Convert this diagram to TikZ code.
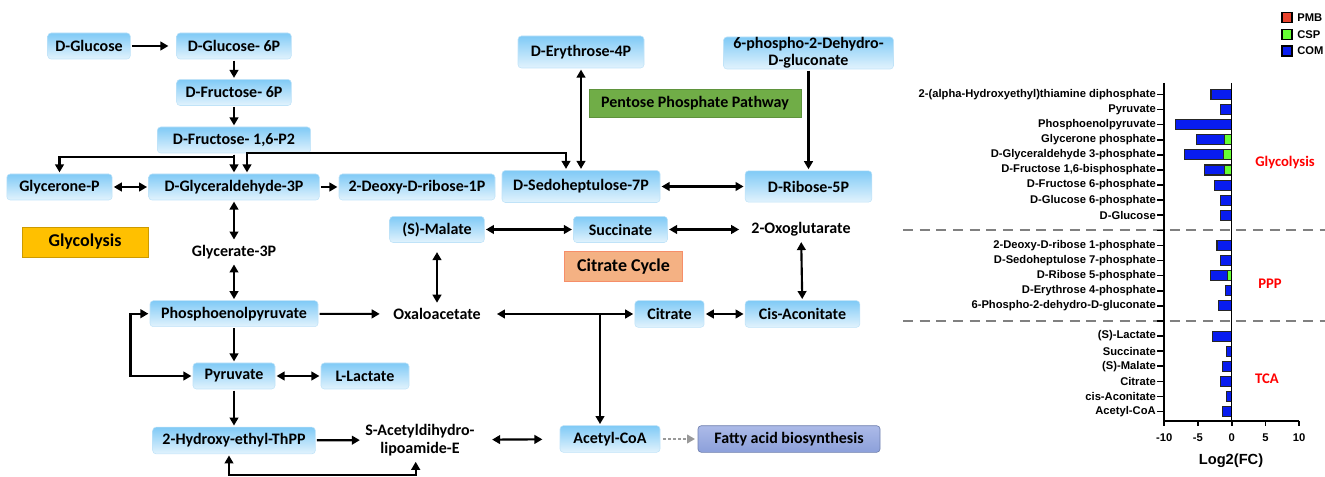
\documentclass[tikz,border=0pt]{standalone}
\usepackage{fontspec}
\setmainfont{Carlito}
\newfontfamily\chartfont{Liberation Sans}
\usetikzlibrary{arrows.meta,calc}

\definecolor{boxtop}{RGB}{128,202,246}
\definecolor{boxbot}{RGB}{226,243,253}
\definecolor{boxline}{RGB}{192,227,248}
\definecolor{pppgreen}{RGB}{112,173,71}
\definecolor{glyorange}{RGB}{255,192,0}
\definecolor{tcasalmon}{RGB}{244,177,131}
\definecolor{fatop}{RGB}{172,186,232}
\definecolor{fabot}{RGB}{140,160,218}
\definecolor{comblue}{RGB}{8,28,240}
\definecolor{cspgreen}{RGB}{102,255,51}
\definecolor{pmbred}{RGB}{232,67,45}

\begin{document}
\begin{tikzpicture}[x=0.75pt,y=-0.75pt,font=\fontsize{12}{13}\selectfont\bfseries]

\tikzset{
  met/.style={rounded corners=2.5pt, top color=boxtop, bottom color=boxbot, draw=boxline, line width=0.4pt,
    inner sep=1pt, minimum height=19.5pt, minimum width=#1},
  txt/.style={inner sep=3pt},
  label box/.style={inner sep=1pt, line width=0.6pt},
  arr/.style={line width=1.6pt, -{Triangle[length=6pt,width=6.5pt]}, shorten >=1pt, shorten <=1pt},
  biarr/.style={arr, {Triangle[length=6pt,width=6.5pt]}-{Triangle[length=6pt,width=6.5pt]}},
  dotarr/.style={line width=1.6pt, black!40, dash pattern=on 2.2pt off 1.6pt, -{Triangle[length=6pt,width=6.5pt]}, shorten >=2pt, shorten <=2pt},
  bar/.style={draw=black!85, line width=0.8pt, fill=comblue},
  lbl/.style={anchor=east, inner sep=0pt},
  sep/.style={black!50, line width=1.5pt, dash pattern=on 7.5pt off 5pt}
}

\useasboundingbox (0,0) rectangle (1325,477);

\node[met=62pt] (Glc) at (89,46) {D-Glucose};
\node[met=86pt] (G6P) at (234,46) {D-Glucose- 6P};
\node[met=86pt] (F6P) at (234,92.5) {D-Fructose- 6P};
\node[met=115pt] (F16P) at (234,140) {D-Fructose- 1,6-P2};
\node[met=79pt] (DHAP) at (59.5,187) {Glycerone-P};
\node[met=128pt] (GAP) at (234,187) {D-Glyceraldehyde-3P};
\node[met=117pt] (Deoxy) at (417,187) {2-Deoxy-D-ribose-1P};
\node[met=118.5pt, minimum height=24pt] (Sedo) at (581,186.5) {D-Sedoheptulose-7P};
\node[met=95pt, minimum height=23.5pt] (R5P) at (808.5,186.5) {D-Ribose-5P};
\node[met=94.5pt, minimum height=24pt] (E4P) at (581,52) {D-Erythrose-4P};
\node[met=127.5pt, minimum height=24pt, inner ysep=0pt, align=center, font=\fontsize{12}{13}\selectfont\bfseries] (PDG) at (808.5,53) {6-phospho-2-Dehydro-\\D-gluconate};
\node[label box, fill=pppgreen, draw=pppgreen!85!black, minimum width=159pt, minimum height=21pt] (PPP) at (695,103) {Pentose Phosphate Pathway};
\node[label box, fill=glyorange, draw=glyorange!80!black, minimum width=94.5pt, minimum height=22.5pt, font=\fontsize{13.5}{15}\selectfont\bfseries] (Gly) at (85,242) {Glycolysis};
\node[txt] (G3P) at (234,252) {Glycerate-3P};
\node[met=71pt] (Mal) at (437,229.5) {(S)-Malate};
\node[met=70.5pt] (Suc) at (620.5,229.5) {Succinate};
\node[txt] (Oxo) at (801,229.5) {2-Oxoglutarate};
\node[label box, fill=tcasalmon, draw=tcasalmon!80!red, minimum width=89pt, minimum height=22.5pt, font=\fontsize{13.5}{15}\selectfont\bfseries] (TCA) at (623.5,266.7) {Citrate Cycle};
\node[met=126pt] (PEP) at (234,313.7) {Phosphoenolpyruvate};
\node[txt] (OAA) at (437,314) {Oxaloacetate};
\node[met=52pt, minimum height=20pt] (Cit) at (669.5,314) {Citrate};
\node[met=86pt, minimum height=20pt] (Cis) at (802.5,314) {Cis-Aconitate};
\node[met=61.5pt] (Pyr) at (234,376) {Pyruvate};
\node[met=66pt] (Lac) at (365,376) {L-Lactate};
\node[met=122pt, minimum height=20pt] (HThPP) at (234,440.5) {2-Hydroxy-ethyl-ThPP};
\node[txt, align=center, font=\fontsize{12}{14}\selectfont\bfseries] (SAc) at (420,440) {S-Acetyldihydro-\\lipoamide-E};
\node[met=75pt, minimum height=20pt] (AcCoA) at (610,439) {Acetyl-CoA};
\node[rounded corners=2.5pt, top color=fatop, bottom color=fabot, draw=fabot!80!black, line width=0.5pt,
  minimum width=136.5pt, minimum height=20pt, inner sep=1pt] (FA) at (789,439) {Fatty acid biosynthesis};
\coordinate (Br) at ($(AcCoA.north)+(-10,0)$);

\draw[arr, shorten >=6pt] (Glc) -- (G6P);
\draw[arr] (G6P) -- (F6P);
\draw[arr] (F6P) -- (F16P);
\draw[arr] (F16P) -- (GAP);
\draw[arr] (F16P.south) -- ++(0,4) -| (DHAP.north);
\draw[biarr] ($(GAP.north)+(13,0)$) -- ++(0,-20.7) -| ($(Sedo.north)+(-15,0)$);
\draw[biarr] (DHAP) -- (GAP);
\draw[arr] (GAP) -- (Deoxy);
\draw[biarr] (E4P) -- (Sedo);
\draw[arr] (PDG) -- (R5P);
\draw[biarr] (Sedo) -- (R5P);
\draw[biarr] (GAP) -- (G3P);
\draw[biarr] (G3P) -- (PEP);
\draw[arr, shorten >=7pt] (PEP) -- (OAA);
\draw[biarr] (PEP.west) -- ++(-19.3,0) |- (Pyr.west);
\draw[arr] (PEP) -- (Pyr);
\draw[biarr] (Pyr) -- (Lac);
\draw[arr] (Pyr) -- (HThPP);
\draw[arr] (HThPP) -- (SAc);
\draw[biarr] ($(HThPP.south)+(-5,0)$) -- ++(0,21) -| ($(SAc.south)+(-4.3,0)$);
\draw[biarr, shorten <=10pt, shorten >=13pt] (SAc) -- (AcCoA);
\draw[dotarr] (AcCoA) -- (FA);
\draw[biarr, shorten <=7pt] (Mal) -- (OAA);
\draw[biarr] (Mal) -- (Suc);
\draw[biarr, shorten >=6pt] (Suc) -- (Oxo);
\draw[biarr] (Oxo) -- (Cis);
\draw[biarr, shorten <=9pt] (OAA) -- (Cit);
\draw[arr] (OAA -| Br) -- (Br);
\draw[biarr] (Cit) -- (Cis);

\begin{scope}[font=\chartfont\fontsize{8.4}{9}\selectfont\bfseries]
\draw[sep] (903,230.4) -- (1325,230.4);
\draw[sep] (903,321) -- (1325,321);
\foreach \s in {1,...,22}
  \draw[line width=1.2pt] (1157,{94.5+15.1*(\s-1)}) -- (1164,{94.5+15.1*(\s-1)});
\foreach \s/\v/\g/\lab in {1/-3.07/0/{2-(alpha-Hydroxyethyl)thiamine diphosphate}, 2/-1.69/0/Pyruvate,
  3/-8.3/0/Phosphoenolpyruvate, 4/-5.19/-1.1/Glycerone phosphate, 5/-7.02/-1.24/D-Glyceraldehyde 3-phosphate,
  6/-4.06/-1.1/{D-Fructose 1,6-bisphosphate}, 7/-2.58/0/D-Fructose 6-phosphate, 8/-1.69/0/D-Glucose 6-phosphate,
  9/-1.69/0/D-Glucose, 11/-2.18/0/2-Deoxy-D-ribose 1-phosphate, 12/-1.73/0/D-Sedoheptulose 7-phosphate,
  13/-3.11/-0.59/D-Ribose 5-phosphate, 14/-0.89/0/D-Erythrose 4-phosphate, 15/-1.99/0/6-Phospho-2-dehydro-D-gluconate,
  17/-2.81/0/(S)-Lactate, 18/-0.74/0/Succinate, 19/-1.33/0/(S)-Malate, 20/-1.73/0/Citrate,
  21/-0.74/0/cis-Aconitate, 22/-1.33/0/Acetyl-CoA}
{
  \pgfmathsetmacro\yy{94.5+15.1*(\s-1)}
  \pgfmathsetmacro\xb{1231.7+6.75*(\v)}
  \pgfmathsetmacro\xg{1231.7+6.75*(\g)}
  \draw[bar] (\xb,\yy-5) rectangle (1231.7,\yy+5);
  \ifdim\g pt<0pt \draw[bar, fill=cspgreen] (\xg,\yy-5) rectangle (1231.7,\yy+5);\fi
  \node[lbl] at (1156,\yy) {\lab};
}
\draw[line width=1.5pt] (1164,83) -- (1164,421) -- (1299.2,421);
\draw[line width=1pt] (1231.7,83) -- (1231.7,421);
\foreach \v in {-10,-5,0,5,10} {
  \pgfmathsetmacro\xt{1231.7+6.75*(\v)}
  \draw[line width=1.2pt] (\xt,421) -- (\xt,426);
  \node at (\xt,438) {\v};
}
\node[font=\chartfont\fontsize{11}{12}\selectfont\bfseries] at (1231,460.7) {Log2(FC)};
\foreach \c/\t [count=\k] in {pmbred/PMB, cspgreen/CSP, comblue/COM} {
  \pgfmathsetmacro\yl{17.7+16.65*(\k-1)}
  \draw[fill=\c, line width=0.8pt] (1282,\yl-5) rectangle (1292,\yl+5);
  \node[anchor=west, inner sep=0pt] at (1297,\yl) {\t};
}
\end{scope}
\node[red, font=\fontsize{11}{12}\selectfont\bfseries] at (1285,162.7) {Glycolysis};
\node[red, font=\fontsize{11}{12}\selectfont\bfseries] at (1270,283.3) {PPP};
\node[red, font=\fontsize{11}{12}\selectfont\bfseries] at (1267,378.3) {TCA};

\end{tikzpicture}
\end{document}
